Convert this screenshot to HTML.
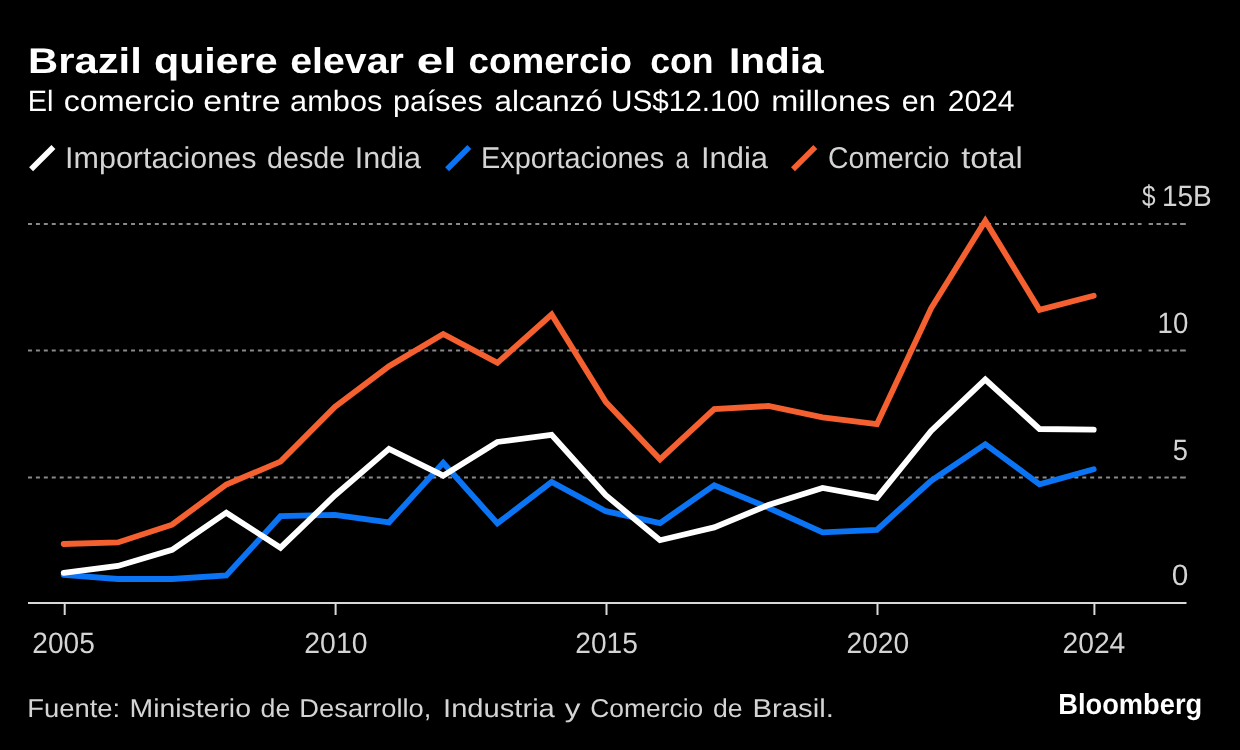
<!DOCTYPE html>
<html><head><meta charset="utf-8"><title>Brazil quiere elevar el comercio con India</title>
<style>
html,body{margin:0;padding:0;background:#000;}
body{width:1240px;height:750px;overflow:hidden;font-family:"Liberation Sans",sans-serif;}
svg{display:block;}
text{font-family:"Liberation Sans",sans-serif;}
</style></head><body>
<svg width="1240" height="750" viewBox="0 0 1240 750">
<rect width="1240" height="750" fill="#000"/>
<!-- title -->
<!-- legend -->
<g stroke-width="5.6" stroke-linecap="butt">
<line x1="31.1" y1="169.2" x2="53.4" y2="147" stroke="#fff"/>
<line x1="447.1" y1="169.2" x2="469.3" y2="147" stroke="#0b74f4"/>
<line x1="793" y1="169.2" x2="815.3" y2="147" stroke="#f4602f"/>
</g>
<!-- grid -->
<g stroke="#8a8a8a" stroke-width="2" stroke-dasharray="3.96 3.967">
<line x1="28" y1="224" x2="1141.6" y2="224"/>
<path d="M1148.6,224 h4.4 M1156.5,224 h4.4 M1164.4,224 h4.4 M1172.3,224 h4.4 M1180.1,224 h5.7" stroke-dasharray="none"/>
<line x1="28" y1="350.6" x2="1141.6" y2="350.6"/>
<path d="M1148.6,350.6 h4.4 M1156.5,350.6 h4.4 M1164.4,350.6 h4.4 M1172.3,350.6 h4.4 M1180.1,350.6 h5.7" stroke-dasharray="none"/>
<line x1="28" y1="477.5" x2="1141.6" y2="477.5"/>
<path d="M1148.6,477.5 h4.4 M1156.5,477.5 h4.4 M1164.4,477.5 h4.4 M1172.3,477.5 h4.4 M1180.1,477.5 h5.7" stroke-dasharray="none"/>
</g>
<!-- axis -->
<g stroke="#d9d9d9" stroke-width="2">
<line x1="28" y1="603.1" x2="1186.5" y2="603.1"/>
<line x1="64.7" y1="603" x2="64.7" y2="615"/>
<line x1="335.6" y1="603" x2="335.6" y2="615"/>
<line x1="606.5" y1="603" x2="606.5" y2="615"/>
<line x1="877.5" y1="603" x2="877.5" y2="615"/>
<line x1="1094.4" y1="603" x2="1094.4" y2="615"/>
</g>
<!-- series -->
<g fill="none" stroke-width="5.8" stroke-linecap="round" stroke-linejoin="miter">
<path d="M63.7,544.0 L117.9,542.4 L172.1,524.7 L226.3,484.5 L280.5,461.6 L334.8,407.0 L389.0,366.2 L443.2,334.0 L497.4,362.8 L551.6,314.5 L605.8,402.0 L660.0,459.3 L714.2,409.0 L768.4,406.0 L822.6,417.4 L876.9,424.2 L931.1,308.3 L985.3,220.9 L1039.5,309.8 L1093.7,295.8" stroke="#f4602f"/>
<path d="M63.7,574.8 L117.9,579.0 L172.1,579.0 L226.3,575.5 L280.5,516.2 L334.8,514.8 L389.0,522.3 L443.2,462.8 L497.4,523.4 L551.6,482.0 L605.8,511.2 L660.0,523.1 L714.2,485.2 L768.4,507.8 L822.6,532.4 L876.9,529.8 L931.1,480.8 L985.3,444.2 L1039.5,484.4 L1093.7,469.3" stroke="#0b74f4"/>
<path d="M63.7,572.8 L117.9,566.0 L172.1,549.8 L226.3,512.7 L280.5,547.7 L334.8,495.5 L389.0,448.9 L443.2,475.6 L497.4,442.0 L551.6,434.8 L605.8,495.2 L660.0,540.2 L714.2,527.4 L768.4,505.0 L822.6,488.0 L876.9,497.8 L931.1,431.0 L985.3,379.5 L1039.5,429.0 L1093.7,429.6" stroke="#fff"/>
</g>
<!-- text -->
<defs><mask id="m"><rect width="1240" height="750" fill="#fff"/></mask></defs>
<g mask="url(#m)" style="text-rendering:geometricPrecision">
<text x="27.99" y="73.0" font-size="35.8" font-weight="bold" fill="#ffffff" textLength="113.78" lengthAdjust="spacingAndGlyphs">Brazil</text>
<text x="153.96" y="73.0" font-size="35.8" font-weight="bold" fill="#ffffff" textLength="123.82" lengthAdjust="spacingAndGlyphs">quiere</text>
<text x="290.24" y="73.0" font-size="35.8" font-weight="bold" fill="#ffffff" textLength="113.64" lengthAdjust="spacingAndGlyphs">elevar</text>
<text x="416.78" y="73.0" font-size="35.8" font-weight="bold" fill="#ffffff" textLength="39.56" lengthAdjust="spacingAndGlyphs">el</text>
<text x="468.55" y="73.0" font-size="35.8" font-weight="bold" fill="#ffffff" textLength="163.46" lengthAdjust="spacingAndGlyphs">comercio</text>
<text x="650.22" y="73.0" font-size="35.8" font-weight="bold" fill="#ffffff" textLength="63.33" lengthAdjust="spacingAndGlyphs">con</text>
<text x="728.92" y="73.0" font-size="35.8" font-weight="bold" fill="#ffffff" textLength="94.79" lengthAdjust="spacingAndGlyphs">India</text>
<text x="27.76" y="111.0" font-size="29.3" font-weight="normal" fill="#ffffff" textLength="25.66" lengthAdjust="spacingAndGlyphs">El</text>
<text x="63.75" y="111.0" font-size="29.3" font-weight="normal" fill="#ffffff" textLength="130.69" lengthAdjust="spacingAndGlyphs">comercio</text>
<text x="203.38" y="111.0" font-size="29.3" font-weight="normal" fill="#ffffff" textLength="77.34" lengthAdjust="spacingAndGlyphs">entre</text>
<text x="290.11" y="111.0" font-size="29.3" font-weight="normal" fill="#ffffff" textLength="92.27" lengthAdjust="spacingAndGlyphs">ambos</text>
<text x="393.00" y="111.0" font-size="29.3" font-weight="normal" fill="#ffffff" textLength="89.73" lengthAdjust="spacingAndGlyphs">países</text>
<text x="494.63" y="111.0" font-size="29.3" font-weight="normal" fill="#ffffff" textLength="108.11" lengthAdjust="spacingAndGlyphs">alcanzó</text>
<text x="610.92" y="111.0" font-size="29.3" font-weight="normal" fill="#ffffff" textLength="148.82" lengthAdjust="spacingAndGlyphs">US$12.100</text>
<text x="771.30" y="111.0" font-size="29.3" font-weight="normal" fill="#ffffff" textLength="119.14" lengthAdjust="spacingAndGlyphs">millones</text>
<text x="901.87" y="111.0" font-size="29.3" font-weight="normal" fill="#ffffff" textLength="33.83" lengthAdjust="spacingAndGlyphs">en</text>
<text x="947.78" y="111.0" font-size="29.3" font-weight="normal" fill="#ffffff" textLength="66.77" lengthAdjust="spacingAndGlyphs">2024</text>
<text x="65.12" y="168.0" font-size="30" font-weight="normal" fill="#d4d4d4" textLength="191.30" lengthAdjust="spacingAndGlyphs">Importaciones</text>
<text x="267.03" y="168.0" font-size="30" font-weight="normal" fill="#d4d4d4" textLength="78.10" lengthAdjust="spacingAndGlyphs">desde</text>
<text x="354.72" y="168.0" font-size="30" font-weight="normal" fill="#d4d4d4" textLength="66.32" lengthAdjust="spacingAndGlyphs">India</text>
<text x="481.02" y="168.0" font-size="30" font-weight="normal" fill="#d4d4d4" textLength="183.07" lengthAdjust="spacingAndGlyphs">Exportaciones</text>
<text x="675.41" y="168.0" font-size="30" font-weight="normal" fill="#d4d4d4" textLength="13.48" lengthAdjust="spacingAndGlyphs">a</text>
<text x="700.98" y="168.0" font-size="30" font-weight="normal" fill="#d4d4d4" textLength="67.02" lengthAdjust="spacingAndGlyphs">India</text>
<text x="828.01" y="168.0" font-size="30" font-weight="normal" fill="#d4d4d4" textLength="121.46" lengthAdjust="spacingAndGlyphs">Comercio</text>
<text x="961.27" y="168.0" font-size="30" font-weight="normal" fill="#d4d4d4" textLength="61.42" lengthAdjust="spacingAndGlyphs">total</text>
<text x="27.23" y="717.0" font-size="25.8" font-weight="normal" fill="#d4d4d4" textLength="92.98" lengthAdjust="spacingAndGlyphs">Fuente:</text>
<text x="129.49" y="717.0" font-size="25.8" font-weight="normal" fill="#d4d4d4" textLength="121.49" lengthAdjust="spacingAndGlyphs">Ministerio</text>
<text x="260.53" y="717.0" font-size="25.8" font-weight="normal" fill="#d4d4d4" textLength="29.77" lengthAdjust="spacingAndGlyphs">de</text>
<text x="299.33" y="717.0" font-size="25.8" font-weight="normal" fill="#d4d4d4" textLength="132.01" lengthAdjust="spacingAndGlyphs">Desarrollo,</text>
<text x="443.05" y="717.0" font-size="25.8" font-weight="normal" fill="#d4d4d4" textLength="111.78" lengthAdjust="spacingAndGlyphs">Industria</text>
<text x="564.76" y="717.0" font-size="25.8" font-weight="normal" fill="#d4d4d4" textLength="15.71" lengthAdjust="spacingAndGlyphs">y</text>
<text x="590.30" y="717.0" font-size="25.8" font-weight="normal" fill="#d4d4d4" textLength="112.92" lengthAdjust="spacingAndGlyphs">Comercio</text>
<text x="712.99" y="717.0" font-size="25.8" font-weight="normal" fill="#d4d4d4" textLength="29.55" lengthAdjust="spacingAndGlyphs">de</text>
<text x="752.41" y="717.0" font-size="25.8" font-weight="normal" fill="#d4d4d4" textLength="81.51" lengthAdjust="spacingAndGlyphs">Brasil.</text>
<text x="32.36" y="653.0" font-size="29.5" font-weight="normal" fill="#d4d4d4" textLength="62.42" lengthAdjust="spacingAndGlyphs">2005</text>
<text x="304.34" y="653.0" font-size="29.5" font-weight="normal" fill="#d4d4d4" textLength="63.11" lengthAdjust="spacingAndGlyphs">2010</text>
<text x="575.37" y="653.0" font-size="29.5" font-weight="normal" fill="#d4d4d4" textLength="62.48" lengthAdjust="spacingAndGlyphs">2015</text>
<text x="846.49" y="653.0" font-size="29.5" font-weight="normal" fill="#d4d4d4" textLength="62.68" lengthAdjust="spacingAndGlyphs">2020</text>
<text x="1062.49" y="653.0" font-size="29.5" font-weight="normal" fill="#d4d4d4" textLength="62.85" lengthAdjust="spacingAndGlyphs">2024</text>
<text x="1141.98" y="206.0" font-size="29.5" font-weight="normal" fill="#d4d4d4" textLength="13.56" lengthAdjust="spacingAndGlyphs">$</text>
<text x="1161.91" y="206.0" font-size="29.5" font-weight="normal" fill="#d4d4d4" textLength="49.90" lengthAdjust="spacingAndGlyphs">15B</text>
<text x="1157.61" y="333.0" font-size="29.5" font-weight="normal" fill="#d4d4d4" textLength="30.76" lengthAdjust="spacingAndGlyphs">10</text>
<text x="1172.71" y="460.0" font-size="29.5" font-weight="normal" fill="#d4d4d4" textLength="15.19" lengthAdjust="spacingAndGlyphs">5</text>
<text x="1171.81" y="585.0" font-size="29.5" font-weight="normal" fill="#d4d4d4" textLength="16.59" lengthAdjust="spacingAndGlyphs">0</text>
<text x="1058.26" y="714.0" font-size="29" font-weight="bold" fill="#ffffff" textLength="143.91" lengthAdjust="spacingAndGlyphs">Bloomberg</text>
</g>
</svg>
</body></html>
